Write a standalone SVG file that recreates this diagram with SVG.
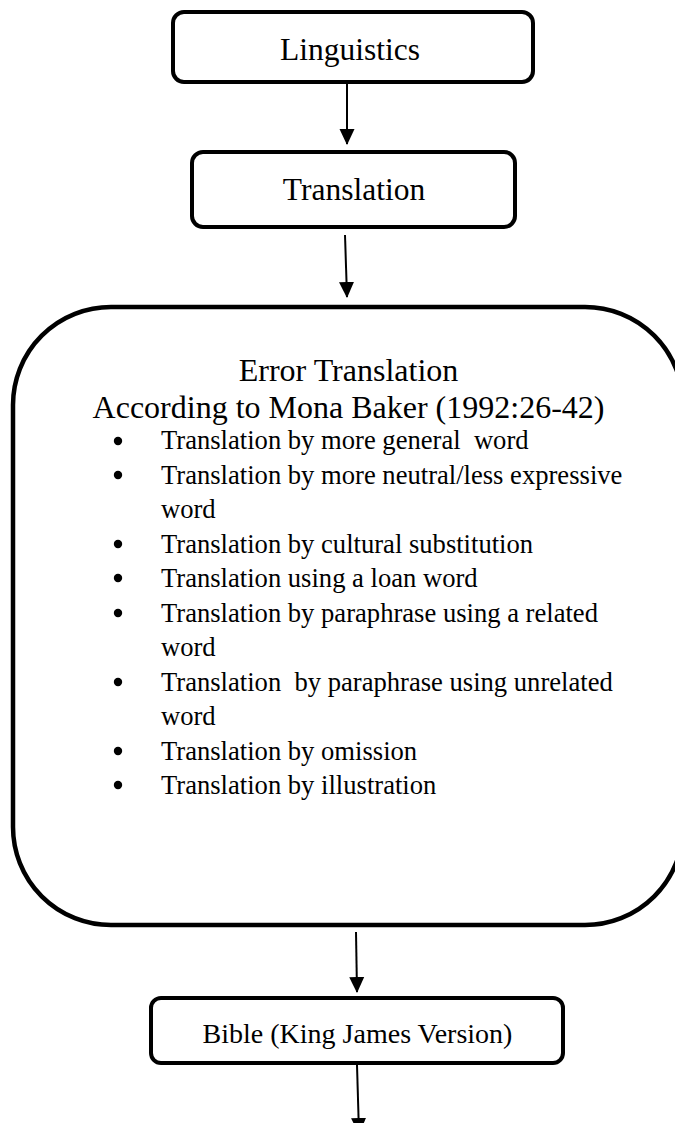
<svg xmlns="http://www.w3.org/2000/svg" width="675" height="1123" viewBox="0 0 675 1123">
<defs>
<marker id="ah" markerWidth="16" markerHeight="16" refX="15" refY="7.5" orient="auto" markerUnits="userSpaceOnUse" viewBox="0 0 16 15">
<path d="M0,0 L16,7.5 L0,15 z" fill="#000"/>
</marker>
<style>
.box{fill:#fff;stroke:#000;stroke-width:4}
.big{fill:#fff;stroke:#000;stroke-width:4.5}
text{font-family:'Liberation Serif','DejaVu Serif','Noto Serif',serif;fill:#000}
.lbl{font-size:31.5px;text-anchor:middle}
.hd{font-size:32px;text-anchor:middle}
.it{font-size:26.6px}
.sm{font-size:28px;text-anchor:middle}
.con{stroke:#000;stroke-width:2;fill:none;marker-end:url(#ah)}
</style>
</defs>
<rect width="675" height="1123" fill="#fff"/>
<g id="n-linguistics">
<rect class="box" x="173" y="12" width="360" height="70" rx="11"/>
<text class="lbl" x="350" y="60" font-family="Liberation Serif, serif">Linguistics</text>
</g>
<g id="n-translation">
<rect class="box" x="192" y="152" width="323" height="75" rx="11"/>
<text class="lbl" x="354" y="200" font-family="Liberation Serif, serif">Translation</text>
</g>
<g id="n-error" font-family="Liberation Serif, serif">
<rect class="big" x="13" y="307" width="670" height="618" rx="98"/>
<text class="hd" x="348.5" y="381">Error Translation</text>
<text class="hd" x="348.5" y="418">According to Mona Baker (1992:26-42)</text>
<g class="it">
<circle cx="118" cy="441" r="4.2"/><text class="it" x="161" y="449" xml:space="preserve">Translation by more general  word</text>
<circle cx="118" cy="475" r="4.2"/><text class="it" x="161" y="484">Translation by more neutral/less expressive</text>
<text class="it" x="161" y="518">word</text>
<circle cx="118" cy="544" r="4.2"/><text class="it" x="161" y="553">Translation by cultural substitution</text>
<circle cx="118" cy="578" r="4.2"/><text class="it" x="161" y="587">Translation using a loan word</text>
<circle cx="118" cy="613" r="4.2"/><text class="it" x="161" y="622">Translation by paraphrase using a related</text>
<text class="it" x="161" y="656">word</text>
<circle cx="118" cy="682" r="4.2"/><text class="it" x="161" y="691" xml:space="preserve">Translation  by paraphrase using unrelated</text>
<text class="it" x="161" y="725">word</text>
<circle cx="118" cy="751" r="4.2"/><text class="it" x="161" y="760">Translation by omission</text>
<circle cx="118" cy="785" r="4.2"/><text class="it" x="161" y="794">Translation by illustration</text>
</g>
</g>
<g id="n-bible">
<rect class="box" x="151" y="998" width="412" height="65" rx="10"/>
<text class="sm" x="357.5" y="1043" font-family="Liberation Serif, serif">Bible (King James Version)</text>
</g>
<g id="connectors">
<line class="con" x1="347" y1="84" x2="347" y2="144"/>
<line class="con" x1="345" y1="235" x2="347" y2="297"/>
<line class="con" x1="356" y1="932" x2="357" y2="992"/>
<line class="con" x1="357" y1="1065" x2="359" y2="1133"/>
</g>
</svg>
